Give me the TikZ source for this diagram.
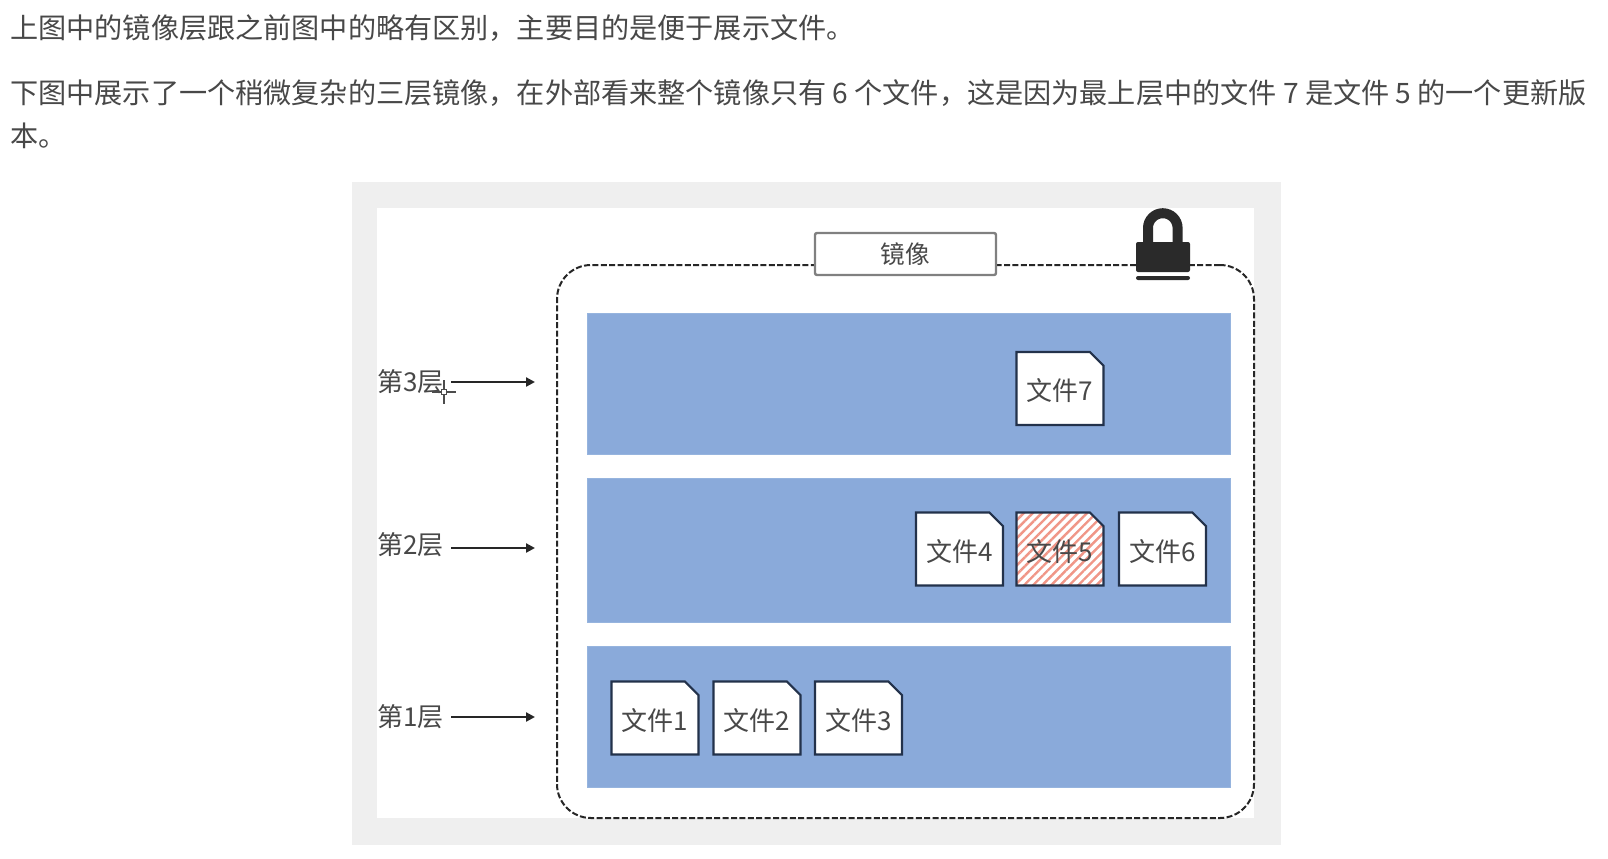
\documentclass[tikz,border=0pt]{standalone}
\usepackage{fontspec}
\setmainfont{Noto Sans CJK SC}
\usepackage{xcolor}
\definecolor{imgpanel}{RGB}{239,239,239}
\definecolor{imglayer}{RGB}{138,170,218}
\definecolor{imgedge}{RGB}{150,180,222}
\definecolor{imgtext}{RGB}{72,72,72}
\definecolor{imgfile}{RGB}{35,50,75}
\definecolor{imgstripe}{RGB}{240,150,135}
\definecolor{imglock}{RGB}{42,42,42}
\usetikzlibrary{arrows.meta,patterns.meta,shapes.misc}
\tikzset{
  para/.style={anchor=west,inner sep=0pt,align=left,text=imgtext,font=\fontsize{14.07}{21.5}\selectfont},
  layerbox/.style={draw=imgedge,fill=imglayer,line width=0.5pt,minimum width=321.5pt,inner sep=0pt},
  filebox/.style={chamfered rectangle,chamfered rectangle corners=north east,chamfered rectangle xsep=3.4pt,chamfered rectangle ysep=3.4pt,draw=imgfile,fill=white,line width=1.1pt,minimum width=43.5pt,minimum height=36.5pt,inner sep=0pt,text=imgtext,text height=13.5pt,font=\fontsize{13}{15}\selectfont},
  layerlabel/.style={anchor=west,inner sep=0pt,text=imgtext,font=\fontsize{13}{15}\selectfont},
  layerarrow/.style={-{Triangle[length=4.5pt,width=4.5pt]},line width=1.4pt,black!85}
}
\begin{document}
\begin{tikzpicture}[x=0.5pt,y=-0.5pt]
  \useasboundingbox (0,0) rectangle (1608,858);
  \node[para] (p1) at (10,28) {上图中的镜像层跟之前图中的略有区别，主要目的是便于展示文件。};
  \node[para] (p2) at (10,114) {下图中展示了一个稍微复杂的三层镜像，在外部看来整个镜像只有 6 个文件，这是因为最上层中的文件 7 是文件 5 的一个更新版\\本。};
  \node[fill=imgpanel,minimum width=464.5pt,minimum height=331.5pt,inner sep=0pt] (panel) at (816.5,513.5) {};
  \node[fill=white,minimum width=438.5pt,minimum height=305pt,inner sep=0pt] (sheet) at (815.5,513) {};
  \node[draw=black!85,dash pattern=on 3pt off 1.2pt,rounded corners=17pt,line width=1pt,minimum width=348.5pt,minimum height=276.5pt,inner sep=0pt] (image) at (905.5,541.5) {};
  \node[draw=black!50,fill=white,rounded corners=1pt,line width=1.2pt,minimum width=90.5pt,minimum height=21pt,inner sep=0pt,text=imgtext,font=\fontsize{12.3}{14}\selectfont] (title) at (905.5,254) {镜像};
  \draw[imglock,line width=5pt] (1148,246) -- (1148,228) arc[start angle=180,end angle=0,radius=7.4pt] -- (1177.6,246);
  \fill[imglock,rounded corners=1pt] (1136,242) rectangle (1190,272);
  \fill[imglock,rounded corners=1pt] (1136,276) rectangle (1190,280);
  \node[layerbox,minimum height=70.5pt] (l3) at (909,383.5) {};
  \node[layerbox,minimum height=72pt] (l2) at (909,550) {};
  \node[layerbox,minimum height=70.5pt] (l1) at (909,717) {};
  \node[filebox] (f7) at (1060,388.5) {文件7};
  \node[filebox] (f4) at (959.5,549) {文件4};
  \node[filebox,preaction={fill=white},pattern={Lines[angle=45,distance=3.2pt,line width=1.2pt]},pattern color=imgstripe] (f5) at (1060,549) {文件5};
  \node[filebox] (f6) at (1162.5,549) {文件6};
  \node[filebox] (f1) at (655,718) {文件1};
  \node[filebox] (f2) at (757,718) {文件2};
  \node[filebox] (f3) at (858.5,718) {文件3};
  \node[layerlabel] (t3) at (377,382) {第3层};
  \node[layerlabel] (t2) at (377,545) {第2层};
  \node[layerlabel] (t1) at (377,717) {第1层};
  \coordinate (a3) at (535,382);
  \coordinate (a2) at (535,548);
  \coordinate (a1) at (535,717);
  \draw[layerarrow] ([xshift=3.5pt]t3.east|-a3)--(a3);
  \draw[layerarrow] ([xshift=3.5pt]t2.east|-a2)--(a2);
  \draw[layerarrow] ([xshift=3.5pt]t1.east|-a1)--(a1);
  \draw[black!70,line width=0.6pt] (432,392)--(456,392) (444,380)--(444,404);
  \node[draw=black!70,fill=white,line width=0.5pt,minimum size=2.5pt,inner sep=0pt] (cursor) at (444,392) {};
\end{tikzpicture}
\end{document}
